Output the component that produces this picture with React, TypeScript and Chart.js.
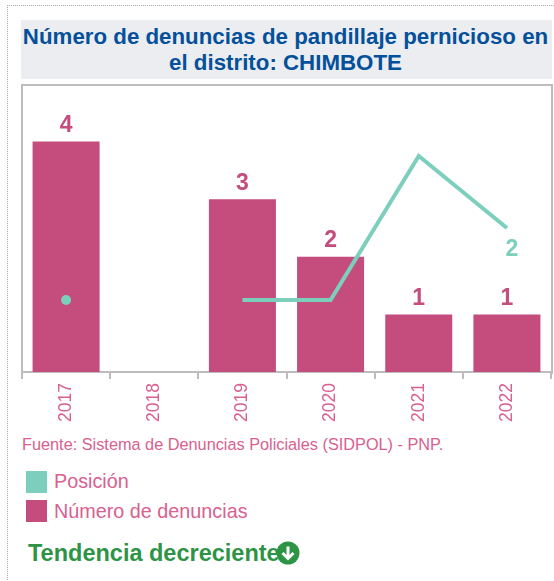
import React, { useEffect, useRef } from "react";
import { Chart, registerables } from "chart.js";

Chart.register(...registerables);

const title = ["Número de denuncias de pandillaje pernicioso en", "el distrito: CHIMBOTE"];
const years = ["2017", "2018", "2019", "2020", "2021", "2022"];
const denuncias = [4, null, 3, 2, 1, 1];
const posicion = [3, null, 3, 3, 1, 2];
const posicionMarkers = [5, 0, 0, 0, 0, 0];
const posicionLabels = ["", "", "", "", "", "2"];
const source = "Fuente: Sistema de Denuncias Policiales (SIDPOL) - PNP.";
const legendItems = [
  { label: "Posición", color: "#7dcfbd" },
  { label: "Número de denuncias", color: "#c44d7e" },
];
const trend = "Tendencia decreciente";

const FONT = '"Liberation Sans", Arial, sans-serif';
const PINK = "#d9608f";
const BAR = "#c44d7e";
const TEAL = "#7dcfbd";
const GRAY = "#bdbdbd";

const labelPlugin = {
  id: "valueLabels",
  afterDatasetsDraw(chart: any) {
    const { ctx } = chart;
    ctx.save();
    ctx.font = `bold 23px ${FONT}`;
    ctx.textAlign = "center";
    ctx.textBaseline = "middle";
    const lineMeta = chart.getDatasetMeta(0);
    const barMeta = chart.getDatasetMeta(1);
    ctx.fillStyle = TEAL;
    posicionLabels.forEach((t, i) => {
      if (t) ctx.fillText(t, lineMeta.data[i].x + 5, lineMeta.data[i].y + 22);
    });
    ctx.fillStyle = BAR;
    denuncias.forEach((v, i) => {
      if (v != null) ctx.fillText(String(v), barMeta.data[i].x, barMeta.data[i].y - 16);
    });
    ctx.restore();
  },
};

export default function App() {
  const ref = useRef<HTMLCanvasElement>(null);
  useEffect(() => {
    const chart = new Chart(ref.current!, {
      type: "bar",
      data: {
        labels: years,
        datasets: [
          {
            type: "line",
            label: "Posición",
            data: posicion,
            yAxisID: "pos",
            borderColor: TEAL,
            backgroundColor: TEAL,
            borderWidth: 4,
            pointRadius: posicionMarkers,
            pointBorderWidth: 0,
            tension: 0,
            spanGaps: false,
            order: 0,
          },
          {
            type: "bar",
            label: "Número de denuncias",
            data: denuncias,
            yAxisID: "y",
            backgroundColor: BAR,
            barPercentage: 0.76,
            categoryPercentage: 1,
            order: 1,
          },
        ],
      } as any,
      options: {
        animation: false,
        responsive: false,
        layout: { padding: { left: 1, right: 1, top: 0, bottom: 0 } },
        plugins: { legend: { display: false }, tooltip: { enabled: false } },
        scales: {
          x: {
            offset: true,
            grid: { drawOnChartArea: false, color: GRAY, tickLength: 7, lineWidth: 2 },
            border: { color: GRAY, width: 2 },
            ticks: {
              color: PINK,
              font: { family: FONT, size: 17.5 },
              maxRotation: 90,
              minRotation: 90,
              padding: 4,
            },
          },
          y: { display: false, min: 0, max: 5 },
          pos: { display: false, reverse: true, min: 0, max: 4 },
        },
      } as any,
      plugins: [labelPlugin],
    });
    return () => chart.destroy();
  }, []);

  return (
    <div style={{ position: "absolute", left: 0, top: 0, width: 554, height: 581, overflow: "hidden", background: "#fff", fontFamily: FONT }}>
      <div style={{ position: "absolute", left: 7, top: 5, width: 560, height: 600, borderLeft: "1px dotted #aaa", borderTop: "1px dotted #aaa" }} />
      <div style={{ position: "absolute", left: 21, top: 20, width: 531, height: 59, background: "#ebedf0", color: "#05509b", fontWeight: "bold", fontSize: 22.3, lineHeight: "26px", textAlign: "center", paddingTop: 4, paddingRight: 2, boxSizing: "border-box", whiteSpace: "nowrap" }}>
        {title.map((t) => (<div key={t}>{t}</div>))}
      </div>
      <div style={{ position: "absolute", left: 21, top: 84, width: 532, height: 290, boxSizing: "border-box", borderLeft: `2px solid ${GRAY}`, borderTop: `2px solid ${GRAY}`, borderRight: `2px solid ${GRAY}` }} />
      <canvas ref={ref} width={539} height={347} style={{ position: "absolute", left: 17, top: 79, width: 539, height: 347 }} />
      <div style={{ position: "absolute", left: 22, top: 435, color: PINK, fontSize: 16.3, whiteSpace: "nowrap" }}>{source}</div>
      {legendItems.map((it, i) => (
        <div key={it.label} style={{ position: "absolute", left: 26, top: 470 + i * 29.5, height: 23, display: "flex", alignItems: "center", whiteSpace: "nowrap" }}>
          <span style={{ width: 21, height: 22, background: it.color, display: "inline-block" }} />
          <span style={{ marginLeft: 7, color: PINK, fontSize: 19.8 }}>{it.label}</span>
        </div>
      ))}
      <div style={{ position: "absolute", left: 28, top: 539, color: "#2e9445", fontWeight: "bold", fontSize: 23.5, whiteSpace: "nowrap", lineHeight: "28px" }}>{trend}</div>
      <svg style={{ position: "absolute", left: 276, top: 541 }} width={24} height={24} viewBox="0 0 24 24">
        <circle cx="12" cy="12" r="11.5" fill="#2e9445" />
        <path d="M12 5.5V17M6.5 12L12 17.5L17.5 12" stroke="#fff" strokeWidth="3" fill="none" />
      </svg>
    </div>
  );
}
